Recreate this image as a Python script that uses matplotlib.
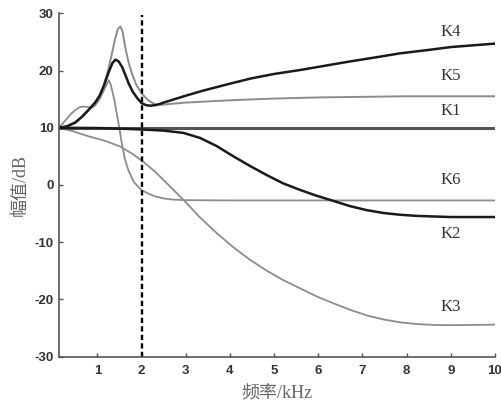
import numpy as np
import matplotlib
matplotlib.use('Agg')
import matplotlib.pyplot as plt

plt.rcParams['axes.unicode_minus'] = False

# curve data (x in kHz, y in dB)
k1_x = [0.12, 10.0]
k1_y = [10.0, 10.0]

k4_x = [0.12, 0.3, 0.5, 0.65, 0.8, 0.95, 1.05, 1.15, 1.26, 1.34, 1.41, 1.48, 1.56, 1.64,
        1.71, 1.8, 1.9, 2.0, 2.1, 2.2, 2.35, 2.5, 3.0, 3.4, 4.0, 4.47, 5.0, 5.6, 6.2,
        6.73, 7.3, 7.85, 8.5, 9.0, 9.5, 10.0]
k4_y = [10.0, 10.2, 10.9, 11.9, 13.1, 14.4, 15.6, 17.4, 19.8, 21.3, 21.9, 21.6, 20.6, 19.1,
        17.7, 16.3, 15.2, 14.3, 13.95, 13.85, 14.0, 14.4, 15.6, 16.5, 17.7, 18.6, 19.4, 20.1, 20.9,
        21.6, 22.3, 23.0, 23.6, 24.1, 24.4, 24.7]

k5_x = [0.12, 0.3, 0.5, 0.65, 0.8, 0.95, 1.05, 1.15, 1.25, 1.33, 1.4, 1.46, 1.52, 1.57,
        1.63, 1.7, 1.78, 1.88, 2.0, 2.15, 2.3, 2.45, 2.7, 3.0, 4.0, 5.0, 6.0, 7.0, 8.0, 10.0]
k5_y = [10.0, 10.3, 11.0, 12.0, 13.2, 14.5, 15.5, 17.6, 20.3, 23.0, 25.5, 27.2, 27.7, 26.8,
        24.1, 21.6, 19.5, 17.5, 16.0, 14.8, 14.1, 14.0, 14.2, 14.4, 14.8, 15.1, 15.3, 15.4, 15.5, 15.5]

k6_x = [0.12, 0.2, 0.3, 0.4, 0.5, 0.6, 0.7, 0.8, 0.88, 0.95, 1.05, 1.15, 1.22, 1.26, 1.3,
        1.38, 1.45, 1.5, 1.56, 1.62, 1.7, 1.82, 1.92, 2.0, 2.15, 2.31, 2.5, 2.7, 3.0, 4.0, 10.0]
k6_y = [10.0, 10.6, 11.5, 12.4, 13.1, 13.6, 13.7, 13.6, 13.5, 13.9, 15.0, 16.6, 17.7, 18.3, 17.6,
        15.0, 12.0, 9.8, 6.9, 4.6, 2.6, 0.6, -0.3, -0.9, -1.5, -2.0, -2.35, -2.55, -2.65, -2.7, -2.7]

k2_x = [0.12, 1.0, 1.5, 2.0, 2.5, 2.95, 3.33, 3.7, 4.08, 4.46, 4.84, 5.2, 5.6, 5.97, 6.35,
        6.72, 7.1, 7.48, 7.85, 8.23, 8.6, 9.0, 10.0]
k2_y = [10.0, 9.95, 9.85, 9.7, 9.5, 9.1, 8.2, 6.8, 5.0, 3.3, 1.7, 0.3, -0.9, -1.9, -2.8,
        -3.7, -4.4, -4.9, -5.2, -5.4, -5.5, -5.6, -5.6]

k3_x = [0.12, 0.4, 0.8, 1.18, 1.52, 1.78, 2.0, 2.31, 2.61, 2.95, 3.3, 3.7, 4.08, 4.46, 4.84,
        5.2, 5.6, 5.97, 6.35, 6.72, 7.1, 7.48, 7.85, 8.23, 8.6, 9.0, 10.0]
k3_y = [10.0, 9.5, 8.5, 7.7, 6.7, 5.5, 4.3, 2.3, 0.0, -2.6, -5.5, -8.4, -10.9, -13.1, -15.0,
        -16.6, -18.1, -19.5, -20.7, -21.8, -22.8, -23.5, -24.0, -24.3, -24.45, -24.5, -24.4]

labels = ['K4', 'K5', 'K1', 'K6', 'K2', 'K3']
label_y = [26.7, 19.0, 12.9, 0.85, -8.5, -21.4]

x_ticks = [1, 2, 3, 4, 5, 6, 7, 8, 9, 10]
y_ticks = [-30, -20, -10, 0, 10, 20, 30]

fig = plt.figure(figsize=(5.01, 4.05), dpi=100)
ax = fig.add_axes([0.1168, 0.1193, 0.8712, 0.8479])

dark = '#1a1a1a'
grey = '#8c8c8c'
ax.plot(k3_x, k3_y, color=grey, lw=1.3)
ax.plot(k6_x, k6_y, color=grey, lw=1.3)
ax.plot(k5_x, k5_y, color=grey, lw=1.4)
ax.plot(k1_x, k1_y, color='#555555', lw=2.2)
ax.plot(k2_x, k2_y, color=dark, lw=1.8)
ax.plot(k4_x, k4_y, color=dark, lw=1.8)
ax.axvline(2, ymin=0, ymax=0.995, color='black', lw=1.7, dashes=(2.2, 1.4))

serif = ['Liberation Serif', 'Noto Sans CJK SC']
for name, yy in zip(labels, label_y):
    ax.text(9.0, yy, name, ha='center', va='center', fontsize=12,
            family='Liberation Serif', color='#333333')

ax.set_xlim(0.12, 10)
ax.set_ylim(-30, 30)
ax.set_xticks(x_ticks)
ax.set_yticks(y_ticks)
ax.tick_params(direction='in', length=3, width=1, color='#555555', labelcolor='#333333')
for lab in ax.get_xticklabels() + ax.get_yticklabels():
    lab.set_family('Liberation Sans')
    lab.set_fontweight('bold')
    lab.set_fontsize(9.5)
ax.tick_params(axis='x', pad=6)

for side in ['top', 'right']:
    ax.spines[side].set_visible(False)
for side in ['left', 'bottom']:
    ax.spines[side].set_color('#555555')
    ax.spines[side].set_linewidth(1.2)

ax.set_xlabel('频率/kHz', family=serif, fontsize=13, color='#666666', labelpad=6)
ax.set_ylabel('幅值/dB', family=serif, fontsize=13, color='#666666', labelpad=4)

fig.savefig('out.png', dpi=100)
